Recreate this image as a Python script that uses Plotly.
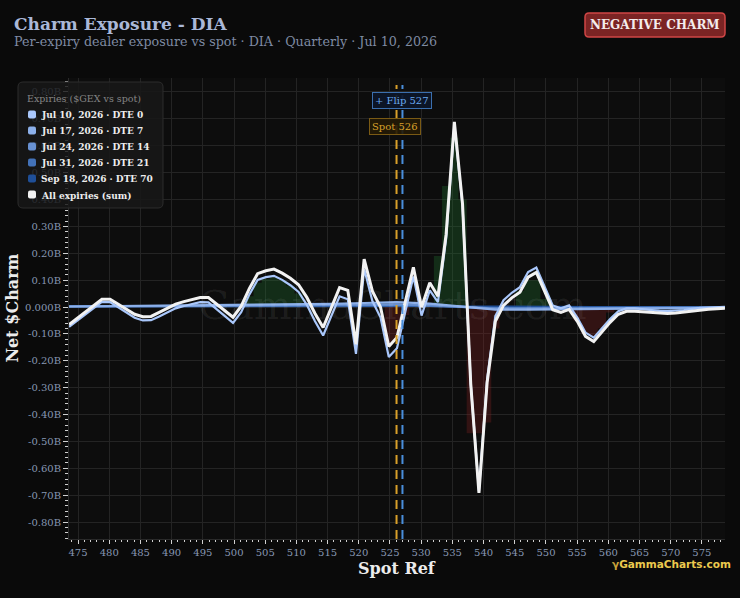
import plotly.graph_objects as go

# ---------------- data ----------------
spot_ref = [473.56, 474.87, 476.19, 477.50, 478.82, 480.13, 481.44, 482.76, 484.07, 485.39,
            486.70, 488.01, 489.33, 490.64, 491.96, 493.27, 494.58, 495.90, 497.21, 498.53,
            499.84, 501.15, 502.47, 503.78, 505.10, 506.41, 507.72, 509.04, 510.35, 511.67,
            512.98, 514.29, 515.61, 516.92, 518.24, 519.55, 520.86, 522.18, 523.49, 524.81,
            526.12, 527.43, 528.75, 530.06, 531.38, 532.69, 534.00, 535.32, 536.63, 537.95,
            539.26, 540.57, 541.89, 543.20, 544.52, 545.83, 547.14, 548.46, 549.77, 551.09,
            552.40, 553.71, 555.03, 556.34, 557.66, 558.97, 560.28, 561.60, 562.91, 564.23,
            565.54, 566.85, 568.17, 569.48, 570.80, 572.11, 573.42, 574.74, 576.05, 577.37,
            578.68]

# All expiries (sum), $B
sum_all = [-0.065, -0.041, -0.017, 0.006, 0.029, 0.029, 0.010, -0.010, -0.027, -0.036,
           -0.035, -0.020, -0.004, 0.011, 0.020, 0.028, 0.035, 0.035, 0.010, -0.014,
           -0.038, 0.003, 0.069, 0.124, 0.135, 0.141, 0.126, 0.107, 0.083, 0.036,
           -0.024, -0.076, -0.001, 0.072, 0.062, -0.139, 0.178, 0.059, -0.001, -0.147,
           -0.113, 0.019, 0.148, -0.001, 0.090, 0.040, 0.271, 0.689, 0.383, -0.288,
           -0.691, -0.281, -0.053, 0.006, 0.034, 0.055, 0.111, 0.129, 0.059, -0.010,
           -0.020, -0.009, -0.053, -0.109, -0.128, -0.094, -0.057, -0.027, -0.016, -0.016,
           -0.018, -0.022, -0.024, -0.024, -0.022, -0.018, -0.014, -0.010, -0.008, -0.006,
           -0.005]

# Jul 10, 2026 · DTE 0
dte0 = [-0.074, -0.050, -0.027, -0.004, 0.019, 0.018, -0.002, -0.022, -0.040, -0.050,
        -0.049, -0.035, -0.019, -0.005, 0.004, 0.012, 0.018, 0.017, -0.009, -0.034,
        -0.059, -0.019, 0.047, 0.101, 0.111, 0.116, 0.101, 0.081, 0.056, 0.008,
        -0.053, -0.106, -0.032, 0.040, 0.029, -0.174, 0.142, 0.022, -0.039, -0.186,
        -0.153, -0.018, 0.114, -0.032, 0.062, 0.018, 0.254, 0.678, 0.377, -0.288,
        -0.685, -0.268, -0.034, 0.025, 0.053, 0.074, 0.130, 0.147, 0.076, 0.006,
        -0.005, 0.006, -0.039, -0.095, -0.114, -0.081, -0.045, -0.016, -0.005, -0.005,
        -0.008, -0.012, -0.014, -0.015, -0.014, -0.011, -0.007, -0.003, -0.002, 0.000,
        0.001]

# net exposure shading (coarser band behind the lines), $B
net_band = [0.0, 0.0, 0.0, 0.0, 0.0, 0.0, 0.0, 0.0, 0.0, 0.0,
            0.0, 0.0, 0.0, 0.0, 0.0, 0.0, 0.0, 0.0, 0.0, 0.0,
            0.0, 0.0, 0.04, 0.09, 0.105, 0.11, 0.10, 0.08, 0.05, 0.01,
            0.0, 0.0, 0.0, 0.0, 0.0, 0.0, 0.0, 0.0, 0.0, -0.14,
            -0.12, -0.03, 0.0, 0.0, 0.0, 0.19, 0.45, 0.63, 0.40, -0.47,
            -0.47, -0.43, -0.08, 0.0, 0.0, 0.06, 0.10, 0.10, 0.03, 0.0,
            0.0, 0.0, -0.05, -0.10, -0.11, -0.08, -0.02, 0.0, 0.0, 0.0,
            0.0, 0.0, 0.0, 0.0, 0.0, 0.0, 0.0, 0.0, 0.0, 0.0,
            0.0]

# longer-dated expiries (coarser read)
spot_ref_c = [473.56, 478.82, 484.07, 489.33, 494.58, 499.84, 505.10, 510.35, 515.61, 520.86,
              526.12, 531.38, 536.63, 541.89, 547.14, 552.40, 557.66, 562.91, 568.17, 573.42,
              578.68]
dte7 = [0.002, 0.003, 0.004, 0.005, 0.006, 0.008, 0.009, 0.010, 0.012, 0.015,
        0.018, 0.013, 0.002, -0.010, -0.010, -0.008, -0.007, -0.006, -0.005, -0.003, -0.003]
dte14 = [0.002, 0.002, 0.003, 0.003, 0.004, 0.005, 0.006, 0.007, 0.008, 0.010,
         0.010, 0.007, 0.001, -0.006, -0.006, -0.005, -0.004, -0.003, -0.003, -0.002, -0.002]
dte21 = [0.002, 0.002, 0.002, 0.003, 0.003, 0.004, 0.004, 0.005, 0.006, 0.006,
         0.007, 0.004, 0.001, -0.004, -0.004, -0.003, -0.003, -0.002, -0.002, -0.002, -0.001]
dte70 = [0.003, 0.003, 0.004, 0.004, 0.004, 0.004, 0.005, 0.005, 0.005, 0.005,
         0.005, 0.004, 0.002, 0.001, 0.001, 0.001, 0.000, 0.000, 0.000, 0.000, 0.000]

expiry_labels = ["Jul 10, 2026 · DTE 0", "Jul 17, 2026 · DTE 7", "Jul 24, 2026 · DTE 14",
                 "Jul 31, 2026 · DTE 21", "Sep 18, 2026 · DTE 70", "All expiries (sum)"]
expiry_colors = ["#a9c7fb", "#8cb0ea", "#6891d2", "#4372b8", "#1f4f98", "#f2f2f2"]

spot = 526.05
flip = 527.0

x_ticks = list(range(475, 580, 5))
y_ticks = [-0.8, -0.7, -0.6, -0.5, -0.4, -0.3, -0.2, -0.1, 0.0, 0.1, 0.2, 0.3, 0.4, 0.5, 0.6, 0.7, 0.8]
y_ticktext = ["-0.80B", "-0.70B", "-0.60B", "-0.50B", "-0.40B", "-0.30B", "-0.20B", "-0.10B",
              "0.000B", "0.10B", "0.20B", "0.30B", "0.40B", "0.50B", "0.60B", "0.70B", "0.80B"]

# ---------------- layout geometry ----------------
W, H = 740, 598
ML, MR, MT, MB = 69, 15, 78, 59
PW, PH = W - ML - MR, H - MT - MB
SERIF = "DejaVu Serif"
SERIF_C = "DejaVu Serif Condensed, DejaVu Serif"


def px(xp):
    return (xp - ML) / PW


def py(yp):
    return (H - MB - yp) / PH


def rrect(x0, y0, x1, y1, r):
    X0, X1, Y0, Y1 = px(x0), px(x1), py(y0), py(y1)
    rx, ry = r / PW, r / PH
    return (f"M {X0+rx},{Y0} L {X1-rx},{Y0} Q {X1},{Y0} {X1},{Y0-ry} "
            f"L {X1},{Y1+ry} Q {X1},{Y1} {X1-rx},{Y1} L {X0+rx},{Y1} "
            f"Q {X0},{Y1} {X0},{Y1+ry} L {X0},{Y0-ry} Q {X0},{Y0} {X0+rx},{Y0} Z")


fig = go.Figure()

pos_band = [v if v > 0 else 0.0 for v in net_band]
neg_band = [v if v < 0 else 0.0 for v in net_band]
fig.add_trace(go.Scatter(x=spot_ref, y=pos_band, mode="lines", line=dict(width=0, shape="hvh"),
                         fill="tozeroy", fillcolor="rgba(34,120,50,0.30)", hoverinfo="skip",
                         showlegend=False))
fig.add_trace(go.Scatter(x=spot_ref, y=neg_band, mode="lines", line=dict(width=0, shape="hvh"),
                         fill="tozeroy", fillcolor="rgba(130,35,35,0.32)", hoverinfo="skip",
                         showlegend=False))

for xs, ys, name, col in [(spot_ref_c, dte70, expiry_labels[4], expiry_colors[4]),
                          (spot_ref_c, dte21, expiry_labels[3], expiry_colors[3]),
                          (spot_ref_c, dte14, expiry_labels[2], expiry_colors[2]),
                          (spot_ref_c, dte7, expiry_labels[1], expiry_colors[1]),
                          (spot_ref, dte0, expiry_labels[0], expiry_colors[0])]:
    fig.add_trace(go.Scatter(x=xs, y=ys, mode="lines", name=name,
                             line=dict(color=col, width=2.2), showlegend=False))

fig.add_trace(go.Scatter(x=spot_ref, y=sum_all, mode="lines", name=expiry_labels[5],
                         line=dict(color="#f2f2f2", width=3), showlegend=False))

shapes = []
annotations = []

# spot / flip lines
shapes.append(dict(type="line", xref="x", yref="paper", x0=spot, x1=spot, y0=0, y1=0.985,
                   line=dict(color="#d9a02a", width=2, dash="9px,6px")))
shapes.append(dict(type="line", xref="x", yref="paper", x0=flip, x1=flip, y0=0, y1=0.985,
                   line=dict(color="#4a8fdc", width=2, dash="9px,6px")))

annotations.append(dict(x=flip - 0.05, xref="x", y=py(100), yref="paper", text="+ Flip 527",
                        showarrow=False, font=dict(family=SERIF, size=10, color="#6aaaf0"),
                        bgcolor="rgba(12,22,40,0.92)", bordercolor="#3b6fae", borderwidth=1,
                        borderpad=2, xanchor="center", yanchor="middle"))
annotations.append(dict(x=spot - 0.2, xref="x", y=py(126), yref="paper", text="Spot 526",
                        showarrow=False, font=dict(family=SERIF, size=10, color="#d9a22a"),
                        bgcolor="rgba(35,26,6,0.9)", bordercolor="#7a5a14", borderwidth=1,
                        borderpad=2, xanchor="center", yanchor="middle"))

# center watermark
annotations.append(dict(x=px(392), y=py(305), xref="paper", yref="paper", text="GammaCharts.com",
                        showarrow=False, font=dict(family=SERIF, size=40, color="rgba(255,255,255,0.07)"),
                        xanchor="center", yanchor="middle"))

# titles
annotations.append(dict(x=px(14), y=py(24), xref="paper", yref="paper", text="<b>Charm Exposure - DIA</b>",
                        showarrow=False, font=dict(family=SERIF, size=17, color="#aab8d8"),
                        xanchor="left", yanchor="middle", xshift=-2))
annotations.append(dict(x=px(14), y=py(41), xref="paper", yref="paper",
                        text="Per-expiry dealer exposure vs spot · DIA · Quarterly · Jul 10, 2026",
                        showarrow=False, font=dict(family=SERIF, size=12.7, color="#7f8ba3"),
                        xanchor="left", yanchor="middle", xshift=-2))

# badge
shapes.append(dict(type="path", xref="paper", yref="paper", path=rrect(585, 13, 725, 37, 4),
                   fillcolor="#7b2424", line=dict(color="#cf4545", width=1.5)))
annotations.append(dict(x=px(655), y=py(25), xref="paper", yref="paper", text="<b>NEGATIVE CHARM</b>",
                        showarrow=False, font=dict(family=SERIF, size=12, color="#f4ecec"),
                        xanchor="center", yanchor="middle"))

# axis titles
annotations.append(dict(x=0.5, y=py(568), xref="paper", yref="paper", text="<b>Spot Ref</b>",
                        showarrow=False, font=dict(family=SERIF, size=16, color="#ececec"),
                        xanchor="center", yanchor="middle"))
annotations.append(dict(x=px(12), y=0.5, xref="paper", yref="paper", text="<b>Net $Charm</b>",
                        showarrow=False, textangle=-90, font=dict(family=SERIF, size=16, color="#ececec"),
                        xanchor="center", yanchor="middle"))

# brand
annotations.append(dict(x=px(733), y=py(564), xref="paper", yref="paper",
                        text="<span style='color:#c9a23a'>γ</span>GammaCharts.com",
                        showarrow=False, font=dict(family="DejaVu Sans", size=10.5, color="#ecc94e", weight="bold"),
                        xanchor="right", yanchor="middle"))

# manual legend
shapes.append(dict(type="path", xref="paper", yref="paper", path=rrect(18, 82, 163, 208, 5),
                   fillcolor="rgba(24,24,24,0.84)", line=dict(color="#2c2c2c", width=1)))
annotations.append(dict(x=px(27), y=py(98), xref="paper", yref="paper", text="Expiries ($GEX vs spot)",
                        showarrow=False, font=dict(family=SERIF, size=9.5, color="#858585"),
                        xanchor="left", yanchor="middle", xshift=-2))
item_y = [115, 131, 147, 163, 179, 195]
for lab, col, yy in zip(expiry_labels, expiry_colors, item_y):
    shapes.append(dict(type="path", xref="paper", yref="paper", path=rrect(28, yy - 4.5, 36, yy + 3.5, 2),
                       fillcolor=col, line=dict(width=0)))
    annotations.append(dict(x=px(41), y=py(yy), xref="paper", yref="paper", text=f"<b>{lab}</b>",
                            showarrow=False, font=dict(family=SERIF_C, size=10, color="#ededed"),
                            xanchor="left", yanchor="middle", xshift=-2))

fig.update_layout(
    width=W, height=H,
    margin=dict(l=ML, r=MR, t=MT, b=MB),
    paper_bgcolor="#0a0a0a", plot_bgcolor="#0d0d0d",
    showlegend=False,
    shapes=shapes, annotations=annotations,
    xaxis=dict(range=[473.55, 578.7], tickvals=x_ticks, ticktext=[str(v) for v in x_ticks],
               tickfont=dict(family=SERIF, size=10, color="#8797b3"),
               showgrid=True, gridcolor="#242424", gridwidth=1, zeroline=False,
               ticks="outside", ticklen=4, tickcolor="#d0d0d0", tickwidth=1,
               showline=True, linecolor="#2a2a2a",
               minor=dict(dtick=1, ticks="outside", ticklen=2, tickcolor="#cfcfcf", showgrid=False)),
    yaxis=dict(range=[-0.863, 0.852], tickvals=y_ticks, ticktext=y_ticktext,
               tickfont=dict(family=SERIF, size=10, color="#8797b3"),
               showgrid=True, gridcolor="#242424", gridwidth=1, zeroline=False,
               ticks="outside", ticklen=5, tickcolor="#d0d0d0", tickwidth=1,
               showline=True, linecolor="#2a2a2a",
               minor=dict(dtick=0.02, ticks="outside", ticklen=3, tickcolor="#cfcfcf", showgrid=False)),
)

fig.write_html("out.html")
